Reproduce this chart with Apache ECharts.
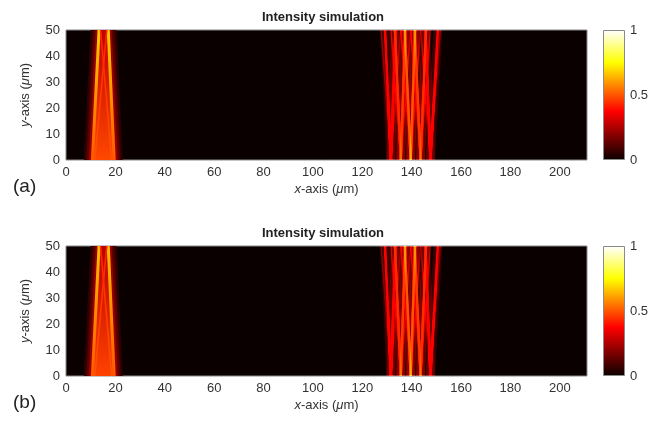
<!DOCTYPE html>
<html><head><meta charset="utf-8">
<script src="https://cdn.jsdelivr.net/npm/echarts@6/dist/echarts.min.js"></script>
<style>html,body{margin:0;padding:0;background:#fff}#c{width:659px;height:421px}</style>
</head><body><div id="c"></div>
<script>
// ---- axes ----
const xRange = [0, 211];
const xStep = 20;
const yRange = [0, 50];
const yStep = 10;
const cbRange = [0, 1];
const cbStep = 0.5;
const panelTitles = ['Intensity simulation', 'Intensity simulation'];
const panelLabels = ['(a)', '(b)'];

// ---- left beam group: fill trapezoid [xBottomL, xBottomR, xTopL, xTopR, intensityBottom, intensityTop]
const leftFillA = [10.6, 19.6, 13.4, 17.1, 0.48, 0.28];
const leftFillB = [10.6, 19.6, 13.4, 17.1, 0.47, 0.27];
// glow around left group: [extra width on each side, intensity]
const leftGlow = [[3.4, 0.07], [2.4, 0.13], [1.4, 0.22], [0.6, 0.3]];
// left group beams: [xBottom, xTop, intensityBottom, intensityTop, widthPx]
const leftBeamsA = [
  [10.7, 13.4, 0.5, 0.68, 3],
  [19.5, 17.1, 0.5, 0.68, 3],
  [11.7, 16.5, 0.5, 0.42, 1.6],
  [18.5, 14.0, 0.5, 0.42, 1.6]
];
const leftBeamsB = [
  [10.7, 13.4, 0.5, 0.66, 3],
  [19.5, 17.1, 0.5, 0.66, 3],
  [11.7, 16.5, 0.5, 0.42, 1.6],
  [18.5, 14.0, 0.5, 0.42, 1.6]
];

// ---- right beam group: [xBottom, xTop, intensity]
const rightMainA = [
  [131.6, 129.2, 0.36], [131.6, 133.4, 0.36],
  [135.6, 133.2, 0.44], [135.6, 137.4, 0.46],
  [139.6, 137.2, 0.5],  [139.6, 141.4, 0.5],
  [143.6, 141.2, 0.46], [143.6, 145.8, 0.44],
  [147.6, 145.6, 0.36], [147.6, 150.6, 0.34]
];
const rightSideA = [
  [131.6, 127.6, 0.14], [131.6, 135.6, 0.14],
  [135.6, 131.6, 0.16], [135.6, 139.6, 0.16],
  [139.6, 135.6, 0.16], [139.6, 143.6, 0.16],
  [143.6, 139.6, 0.16], [143.6, 147.6, 0.16],
  [147.6, 143.6, 0.14], [147.6, 151.6, 0.14]
];
const rightMainB = [
  [131.6, 129.2, 0.36], [131.6, 133.4, 0.36],
  [135.6, 133.2, 0.44], [135.6, 137.4, 0.46],
  [139.6, 137.2, 0.5],  [139.6, 141.4, 0.5],
  [143.6, 141.2, 0.46], [143.6, 145.8, 0.44],
  [147.6, 145.6, 0.36], [147.6, 150.6, 0.34]
];
const rightSideB = [
  [131.6, 127.6, 0.12], [131.6, 135.6, 0.12],
  [135.6, 131.6, 0.14], [135.6, 139.6, 0.14],
  [139.6, 135.6, 0.14], [139.6, 143.6, 0.14],
  [143.6, 139.6, 0.14], [143.6, 147.6, 0.14],
  [147.6, 143.6, 0.12], [147.6, 151.6, 0.12]
];

// ---- colormap (MATLAB "hot") ----
function clamp(v){ return Math.max(0, Math.min(1, v)); }
function hot(t){
  const r = Math.max(0.04, clamp(t / 0.375));
  const g = clamp((t - 0.375) / 0.375);
  const b = clamp((t - 0.75) / 0.25);
  const h = v => Math.round(v * 255).toString(16).padStart(2, '0');
  return '#' + h(r) + h(g) + h(b);
}
const FONT = "'Liberation Sans', Arial, sans-serif";
const TXT = '#333';

const chart = echarts.init(document.getElementById('c'), null, {renderer: 'canvas'});

const plotGrids = [
  {left: 66, top: 30, width: 521, height: 130},
  {left: 66, top: 246, width: 521, height: 130}
];
const cbGrids = [
  {left: 603, top: 30, width: 22, height: 130},
  {left: 603, top: 246, width: 22, height: 130}
];

const grid = [];
const xAxis = [];
const yAxis = [];
const series = [];
const graphic = [];

function vgrad(topColor, bottomColor){
  return new echarts.graphic.LinearGradient(0, 0, 0, 1, [
    {offset: 0, color: topColor}, {offset: 1, color: bottomColor}
  ]);
}

function trapezoidSeries(pi, items, z){
  // items: [xBottomL, xBottomR, xTopL, xTopR, intensityBottom, intensityTop]
  return {
    type: 'custom', xAxisIndex: pi, yAxisIndex: pi, clip: true, silent: true, z: z,
    data: items,
    renderItem: (params, api) => ({
      type: 'polygon',
      shape: {points: [
        api.coord([api.value(0), yRange[0]]), api.coord([api.value(1), yRange[0]]),
        api.coord([api.value(3), yRange[1]]), api.coord([api.value(2), yRange[1]])
      ]},
      style: {fill: vgrad(hot(api.value(5)), hot(api.value(4)))}
    })
  };
}

[[leftFillA, leftBeamsA, rightMainA, rightSideA], [leftFillB, leftBeamsB, rightMainB, rightSideB]].forEach((p, i) => {
  const [fill, lbeams, rmain, rside] = p;
  const g = plotGrids[i];
  const pi = 2 * i;      // plot grid / axis index
  const ci = 2 * i + 1;  // colorbar grid / axis index

  grid[pi] = Object.assign({show: true, backgroundColor: hot(0), borderColor: '#8a8a8a', borderWidth: 1}, g);
  grid[ci] = Object.assign({show: false}, cbGrids[i]);

  xAxis[pi] = {
    type: 'value', gridIndex: pi, min: xRange[0], max: xRange[1], interval: xStep,
    axisLine: {show: false}, axisTick: {show: false}, splitLine: {show: false},
    axisLabel: {color: TXT, fontSize: 13, fontFamily: FONT, margin: 6, showMaxLabel: false},
    name: '{i|x}-axis ({i|\u03bc}m)', nameLocation: 'middle', nameGap: 23,
    nameTextStyle: {color: TXT, fontSize: 13, fontFamily: FONT,
      rich: {i: {fontStyle: 'italic', fontSize: 13, fontFamily: FONT, color: TXT}}}
  };
  yAxis[pi] = {
    type: 'value', gridIndex: pi, min: yRange[0], max: yRange[1], interval: yStep,
    axisLine: {show: false}, axisTick: {show: false}, splitLine: {show: false},
    axisLabel: {color: TXT, fontSize: 13, fontFamily: FONT, margin: 6},
    name: '{i|y}-axis ({i|\u03bc}m)', nameLocation: 'middle', nameGap: 34, nameRotate: 90,
    nameTextStyle: {color: TXT, fontSize: 13, fontFamily: FONT,
      rich: {i: {fontStyle: 'italic', fontSize: 13, fontFamily: FONT, color: TXT}}}
  };
  xAxis[ci] = {type: 'category', gridIndex: ci, data: ['cb'], show: false, boundaryGap: true};
  yAxis[ci] = {
    type: 'value', gridIndex: ci, min: cbRange[0], max: cbRange[1], interval: cbStep, position: 'right',
    axisLine: {show: false}, axisTick: {show: false}, splitLine: {show: false},
    axisLabel: {color: TXT, fontSize: 13, fontFamily: FONT, margin: 5, formatter: v => String(v)}
  };

  // glow layers around left group (widest first), then its fill
  const glowItems = leftGlow.map(([dx, t]) => [fill[0] - dx, fill[1] + dx, fill[2] - dx, fill[3] + dx, t, t]);
  glowItems.forEach((it, k) => series.push(trapezoidSeries(pi, [it], 1 + k * 0.01)));
  series.push(trapezoidSeries(pi, [fill], 2));

  // left group beams
  series.push({
    type: 'lines', coordinateSystem: 'cartesian2d', xAxisIndex: pi, yAxisIndex: pi,
    silent: true, z: 3, polyline: false,
    lineStyle: {opacity: 1, curveness: 0},
    data: lbeams.map(b => ({
      coords: [[b[0], yRange[0]], [b[1], yRange[1]]],
      lineStyle: {width: b[4], color: vgrad(hot(b[3]), hot(b[2]))}
    }))
  });
  // right group glow
  series.push({
    type: 'lines', coordinateSystem: 'cartesian2d', xAxisIndex: pi, yAxisIndex: pi,
    silent: true, z: 4, blendMode: 'lighter', polyline: false,
    lineStyle: {opacity: 1, curveness: 0},
    data: rmain.map(b => ({
      coords: [[b[0], yRange[0]], [b[1], yRange[1]]],
      lineStyle: {width: 9, color: hot(b[2] * 0.2)}
    }))
  });
  // right group side beams
  series.push({
    type: 'lines', coordinateSystem: 'cartesian2d', xAxisIndex: pi, yAxisIndex: pi,
    silent: true, z: 5, blendMode: 'lighter', polyline: false,
    lineStyle: {opacity: 1, curveness: 0},
    data: rside.map(b => ({
      coords: [[b[0], yRange[0]], [b[1], yRange[1]]],
      lineStyle: {width: 1.5, color: hot(b[2])}
    }))
  });
  // right group main beams
  series.push({
    type: 'lines', coordinateSystem: 'cartesian2d', xAxisIndex: pi, yAxisIndex: pi,
    silent: true, z: 6, blendMode: 'lighter', polyline: false,
    lineStyle: {opacity: 1, curveness: 0},
    data: rmain.map(b => ({
      coords: [[b[0], yRange[0]], [b[1], yRange[1]]],
      lineStyle: {width: 2.4, color: hot(b[2])}
    }))
  });

  // colorbar
  series.push({
    type: 'bar', xAxisIndex: ci, yAxisIndex: ci, data: [cbRange[1]], barWidth: '100%', silent: true,
    itemStyle: {
      borderColor: '#8a8a8a', borderWidth: 1,
      color: new echarts.graphic.LinearGradient(0, 0, 0, 1, [
        {offset: 0, color: hot(1)}, {offset: 0.25, color: hot(0.75)},
        {offset: 0.45, color: hot(0.55)}, {offset: 0.625, color: hot(0.375)},
        {offset: 1, color: hot(0)}
      ])
    }
  });

  graphic.push({
    type: 'text', x: 323, y: g.top - 13, silent: true,
    style: {text: panelTitles[i], fill: '#222', font: "bold 13px " + FONT, textAlign: 'center', textVerticalAlign: 'middle'}
  });
  graphic.push({
    type: 'text', x: 13, y: g.top + g.height + 27, silent: true,
    style: {text: panelLabels[i], fill: '#222', font: "19px " + FONT, textAlign: 'left', textVerticalAlign: 'middle'}
  });
});

chart.setOption({
  animation: false,
  backgroundColor: '#fff',
  grid, xAxis, yAxis, series, graphic
});
</script>
</body></html>
